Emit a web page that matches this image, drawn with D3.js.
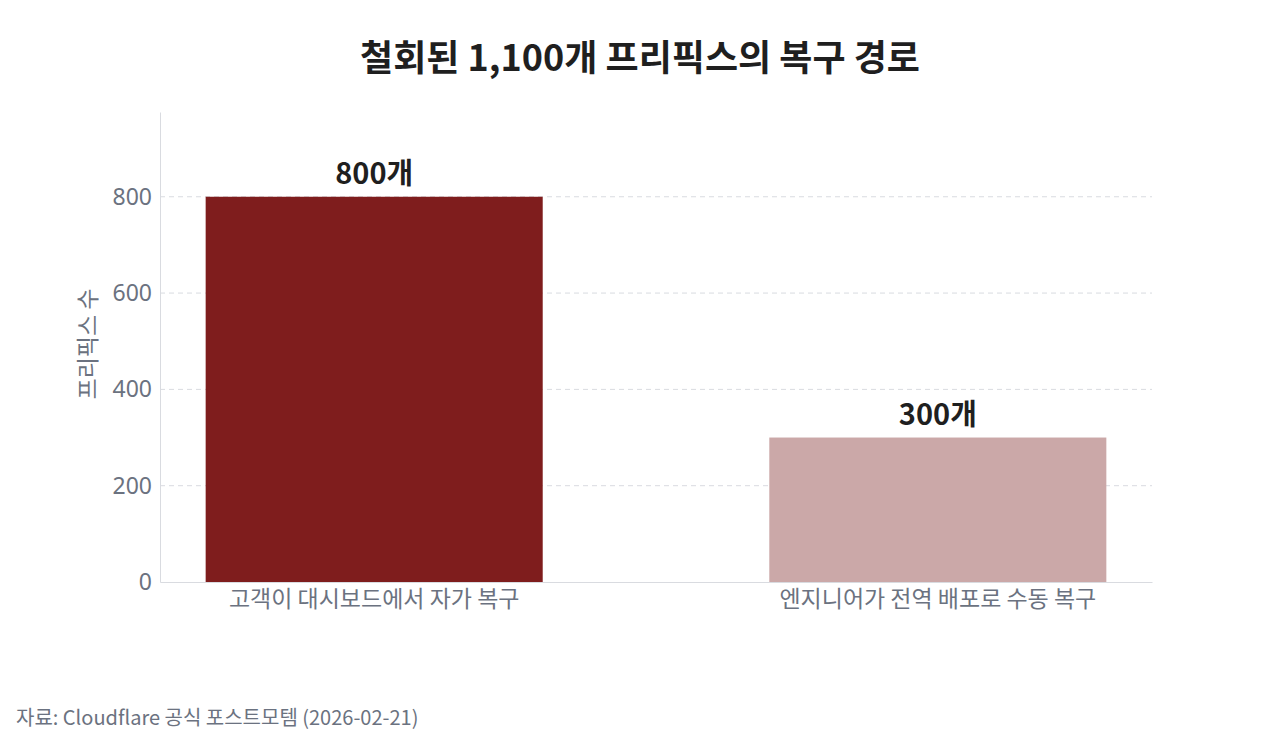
<!DOCTYPE html>
<html>
<head>
<meta charset="utf-8">
<script src="https://cdn.jsdelivr.net/npm/d3@7"></script>
<style>
  body { margin: 0; background: #fff; }
  text { font-family: "Noto Sans CJK KR", "Noto Sans", sans-serif; }
</style>
</head>
<body>
<div id="chart"></div>
<script>
// data
var categories = ["고객이 대시보드에서 자가 복구", "엔지니어가 전역 배포로 수동 복구"];
var counts = [800, 300];
var valueLabels = ["800개", "300개"];
var barColors = ["#7f1d1d", "#cba8a8"];
var yTicks = [0, 200, 400, 600, 800];

var svgWidth = 1280;
var svgHeight = 747;

var margin = { top: 112, right: 128, bottom: 165, left: 160 };
var width = svgWidth - margin.left - margin.right;
var height = svgHeight - margin.top - margin.bottom;

var svg = d3.select("#chart")
  .append("svg")
  .attr("width", svgWidth)
  .attr("height", svgHeight);

// title
svg.append("text")
  .attr("x", svgWidth / 2)
  .attr("y", 71)
  .attr("text-anchor", "middle")
  .style("font-size", "36px")
  .style("font-weight", "bold")
  .style("fill", "#1f1f1f")
  .text("철회된 1,100개 프리픽스의 복구 경로");

var chartGroup = svg.append("g")
  .attr("transform", `translate(${margin.left}, ${margin.top})`);

var xScale = d3.scaleBand()
  .domain(categories)
  .range([0, width])
  .paddingInner(0.402)
  .paddingOuter(0.081);

var yScale = d3.scaleLinear()
  .domain([0, 976])
  .range([height, 0]);

// gridlines
chartGroup.append("g")
  .selectAll("line")
  .data(yTicks.filter(d => d > 0))
  .enter()
  .append("line")
  .attr("x1", 0)
  .attr("x2", width)
  .attr("y1", d => yScale(d))
  .attr("y2", d => yScale(d))
  .attr("stroke", "#d9dbe0")
  .attr("stroke-width", 1)
  .attr("stroke-dasharray", "5,4");

// bars
chartGroup.selectAll("rect")
  .data(counts)
  .enter()
  .append("rect")
  .attr("x", (d, i) => xScale(categories[i]))
  .attr("y", d => yScale(d))
  .attr("width", xScale.bandwidth())
  .attr("height", d => height - yScale(d))
  .attr("fill", (d, i) => barColors[i]);

// value labels
chartGroup.append("g")
  .selectAll("text")
  .data(counts)
  .enter()
  .append("text")
  .attr("x", (d, i) => xScale(categories[i]) + xScale.bandwidth() / 2)
  .attr("y", d => yScale(d) - 13)
  .attr("text-anchor", "middle")
  .style("font-size", "29px")
  .style("font-weight", "bold")
  .style("fill", "#1f1f1f")
  .text((d, i) => valueLabels[i]);

// axes
var leftAxis = d3.axisLeft(yScale).tickValues(yTicks).tickSize(0).tickPadding(8);
var bottomAxis = d3.axisBottom(xScale).tickSize(0).tickPadding(9);

var yAxisG = chartGroup.append("g").call(leftAxis);
yAxisG.select(".domain").attr("stroke", "#d9dbe0");
yAxisG.selectAll("text")
  .style("font-size", "23px")
  .style("fill", "#6b7280")
  .style("font-family", "'Noto Sans', sans-serif");

var xAxisG = chartGroup.append("g")
  .attr("transform", `translate(0, ${height})`)
  .call(bottomAxis);
xAxisG.select(".domain").attr("stroke", "#d9dbe0");
xAxisG.selectAll("text")
  .style("font-size", "23px")
  .style("fill", "#6b7280")
  .style("font-family", "'Noto Sans CJK KR', sans-serif");

// y axis label
chartGroup.append("text")
  .attr("transform", `translate(${-64}, ${height / 2 - 3}) rotate(-90)`)
  .attr("text-anchor", "middle")
  .style("font-size", "23px")
  .style("fill", "#6b7280")
  .text("프리픽스 수");

// source
svg.append("text")
  .attr("x", 16)
  .attr("y", 725)
  .style("font-size", "20px")
  .style("fill", "#6b7280")
  .text("자료: Cloudflare 공식 포스트모템 (2026-02-21)");
</script>
</body>
</html>
